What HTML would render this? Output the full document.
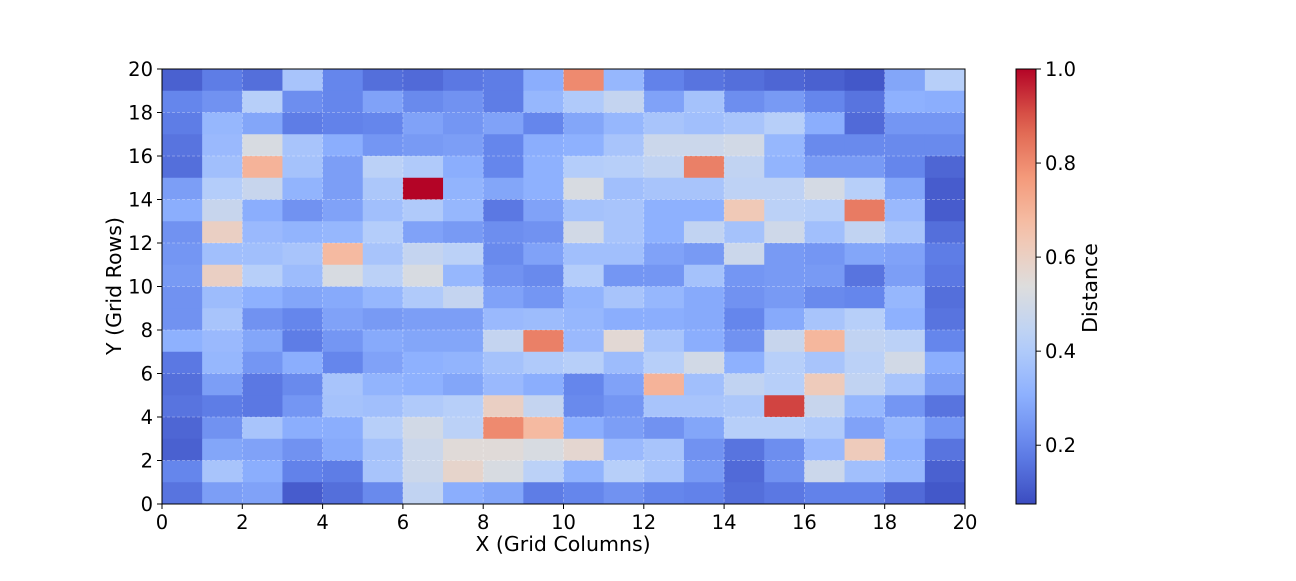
<!DOCTYPE html>
<html><head><meta charset="utf-8"><style>
body{margin:0;background:#fff;}
svg text{font-family:"DejaVu Sans","Liberation Sans",sans-serif;fill:#000;}
</style></head><body>
<svg id="chart" width="1296" height="576" xmlns="http://www.w3.org/2000/svg">
<g id="cells"></g>
<g id="grid"></g>
<rect x="162" y="69" width="803" height="435" fill="none" stroke="#000" stroke-width="1"/>
<g id="xticks"></g>
<g id="yticks"></g>
<text x="563" y="551" font-size="20.5" text-anchor="middle">X (Grid Columns)</text>
<text transform="translate(121,286) rotate(-90)" font-size="20.5" text-anchor="middle">Y (Grid Rows)</text>
<defs><linearGradient id="cbgrad" x1="0" y1="1" x2="0" y2="0"></linearGradient></defs>
<rect x="1016" y="69" width="20" height="435" fill="url(#cbgrad)" stroke="#000" stroke-width="1"/>
<g id="cbticks"></g>
<text transform="translate(1097,288) rotate(-90)" font-size="20.5" text-anchor="middle">Distance</text>
</svg>
<script>
// rows listed from top (y=19) to bottom (y=0)
const rowsTopDown = [
[0.12,0.18,0.15,0.38,0.2,0.15,0.14,0.17,0.18,0.3,0.8,0.33,0.19,0.16,0.15,0.13,0.12,0.1,0.28,0.42],
[0.2,0.23,0.42,0.22,0.2,0.27,0.21,0.23,0.18,0.33,0.4,0.46,0.27,0.37,0.22,0.25,0.2,0.16,0.31,0.3],
[0.18,0.33,0.28,0.18,0.19,0.2,0.27,0.24,0.27,0.2,0.28,0.33,0.38,0.36,0.38,0.42,0.3,0.14,0.24,0.24],
[0.16,0.34,0.52,0.38,0.3,0.24,0.25,0.26,0.2,0.3,0.31,0.38,0.48,0.48,0.5,0.33,0.21,0.21,0.21,0.21],
[0.15,0.36,0.7,0.37,0.26,0.43,0.4,0.3,0.2,0.31,0.41,0.42,0.45,0.82,0.45,0.32,0.25,0.25,0.2,0.13],
[0.26,0.41,0.47,0.32,0.26,0.39,1.0,0.32,0.28,0.31,0.52,0.36,0.38,0.38,0.44,0.44,0.51,0.42,0.28,0.11],
[0.3,0.47,0.3,0.23,0.27,0.36,0.4,0.33,0.17,0.27,0.37,0.38,0.31,0.31,0.63,0.43,0.42,0.83,0.34,0.11],
[0.23,0.6,0.34,0.32,0.33,0.41,0.27,0.25,0.22,0.23,0.5,0.38,0.31,0.45,0.37,0.49,0.36,0.45,0.38,0.15],
[0.24,0.36,0.36,0.38,0.68,0.38,0.46,0.43,0.21,0.27,0.36,0.36,0.27,0.25,0.48,0.25,0.24,0.28,0.27,0.18],
[0.25,0.6,0.42,0.35,0.52,0.43,0.52,0.33,0.23,0.21,0.41,0.24,0.24,0.37,0.24,0.25,0.25,0.16,0.26,0.17],
[0.23,0.35,0.31,0.28,0.29,0.33,0.4,0.46,0.27,0.24,0.32,0.38,0.33,0.29,0.23,0.25,0.21,0.2,0.33,0.15],
[0.23,0.38,0.23,0.2,0.27,0.25,0.26,0.26,0.34,0.35,0.33,0.3,0.3,0.29,0.2,0.29,0.38,0.42,0.31,0.16],
[0.31,0.34,0.28,0.18,0.24,0.29,0.28,0.28,0.46,0.82,0.34,0.56,0.38,0.3,0.23,0.47,0.69,0.45,0.43,0.2],
[0.17,0.33,0.24,0.3,0.2,0.27,0.31,0.32,0.37,0.4,0.42,0.35,0.42,0.5,0.31,0.42,0.38,0.43,0.5,0.3],
[0.15,0.26,0.17,0.21,0.38,0.32,0.31,0.28,0.34,0.3,0.2,0.27,0.7,0.36,0.45,0.42,0.62,0.45,0.38,0.26],
[0.16,0.18,0.17,0.24,0.37,0.36,0.4,0.42,0.6,0.46,0.21,0.24,0.38,0.38,0.39,0.92,0.47,0.33,0.24,0.16],
[0.13,0.23,0.38,0.3,0.3,0.42,0.5,0.43,0.8,0.68,0.3,0.26,0.23,0.28,0.42,0.42,0.4,0.27,0.33,0.24],
[0.12,0.28,0.27,0.23,0.29,0.37,0.48,0.55,0.55,0.52,0.57,0.34,0.38,0.23,0.16,0.22,0.34,0.62,0.31,0.16],
[0.2,0.38,0.3,0.19,0.18,0.38,0.48,0.58,0.52,0.43,0.32,0.42,0.38,0.25,0.14,0.23,0.48,0.36,0.33,0.12],
[0.16,0.26,0.27,0.11,0.15,0.21,0.45,0.3,0.28,0.18,0.2,0.23,0.2,0.19,0.15,0.17,0.19,0.19,0.14,0.1]
];
const xTickLabels = [0,2,4,6,8,10,12,14,16,18,20];
const yTickLabels = [0,2,4,6,8,10,12,14,16,18,20];
const cbTickLabels = [0.2,0.4,0.6,0.8,1.0];
const vmin = 0.075, vmax = 1.0;

const NS = "http://www.w3.org/2000/svg";
const X0 = 162, X1 = 965, Y0 = 504, Y1 = 69;
const xs = v => X0 + (X1 - X0) * v / 20;
const ys = v => Y0 - (Y0 - Y1) * v / 20;
const cs = v => Y0 - (Y0 - Y1) * (v - vmin) / (vmax - vmin);
const stops = [[0,[59,76,192]],[0.125,[98,130,234]],[0.25,[141,176,254]],[0.375,[184,208,249]],[0.5,[221,221,221]],[0.625,[245,196,173]],[0.75,[244,154,123]],[0.875,[222,96,77]],[1,[180,4,38]]];
function cmap(t){
  t = Math.max(0, Math.min(1, t));
  for (let i = 1; i < stops.length; i++) {
    if (t <= stops[i][0]) {
      const a = stops[i-1], b = stops[i];
      const f = (t - a[0]) / (b[0] - a[0]);
      const c = a[1].map((v, k) => Math.round(v + (b[1][k] - v) * f));
      return `rgb(${c[0]},${c[1]},${c[2]})`;
    }
  }
  return "rgb(180,4,38)";
}
function mk(tag, attrs, parent){
  const e = document.createElementNS(NS, tag);
  for (const k in attrs) e.setAttribute(k, attrs[k]);
  parent.appendChild(e);
  return e;
}
const cells = document.getElementById("cells");
const nRows = rowsTopDown.length;
rowsTopDown.forEach((row, ri) => {
  const yIdx = nRows - 1 - ri;
  row.forEach((v, xi) => {
    const r = mk("rect", {x: xs(xi), y: ys(yIdx + 1), width: xs(xi + 1) - xs(xi) + 0.5, height: ys(yIdx) - ys(yIdx + 1) + 0.5, fill: cmap((v - vmin) / (vmax - vmin))}, cells);
    
    
  });
});
const grid = document.getElementById("grid");
xTickLabels.forEach(t => {
  const l = mk("line", {x1: xs(t), x2: xs(t), y1: Y1, y2: Y0, stroke: "#fff", "stroke-opacity": 0.4, "stroke-width": 0.7, "stroke-dasharray": "3,2"}, grid);
  
  
});
yTickLabels.forEach(t => {
  const l = mk("line", {y1: ys(t), y2: ys(t), x1: X0, x2: X1, stroke: "#fff", "stroke-opacity": 0.4, "stroke-width": 0.7, "stroke-dasharray": "3,2"}, grid);
  
  
});
const xt = document.getElementById("xticks");
xTickLabels.forEach(t => {
  const l = mk("line", {x1: xs(t), x2: xs(t), y1: Y0, y2: Y0 + 5, stroke: "#000"}, xt);
  
  
  const tx = mk("text", {x: xs(t), y: Y0 + 25, "font-size": 19.5, "text-anchor": "middle"}, xt);
  tx.textContent = t;
  
  
});
const yt = document.getElementById("yticks");
yTickLabels.forEach(t => {
  const l = mk("line", {x1: X0 - 5, x2: X0, y1: ys(t), y2: ys(t), stroke: "#000"}, yt);
  
  
  const tx = mk("text", {x: X0 - 9, y: ys(t) + 7, "font-size": 19.5, "text-anchor": "end"}, yt);
  tx.textContent = t;
  
  
});
const grad = document.getElementById("cbgrad");
for (let i = 0; i <= 20; i++) {
  mk("stop", {offset: (i / 20), "stop-color": cmap(i / 20)}, grad);
}
const cbt = document.getElementById("cbticks");
cbTickLabels.forEach(t => {
  const l = mk("line", {x1: 1036, x2: 1041, y1: cs(t), y2: cs(t), stroke: "#000"}, cbt);
  
  
  const tx = mk("text", {x: 1045, y: cs(t) + 7, "font-size": 19.5}, cbt);
  tx.textContent = t.toFixed(1);
  
  
});
</script>
</body></html>
